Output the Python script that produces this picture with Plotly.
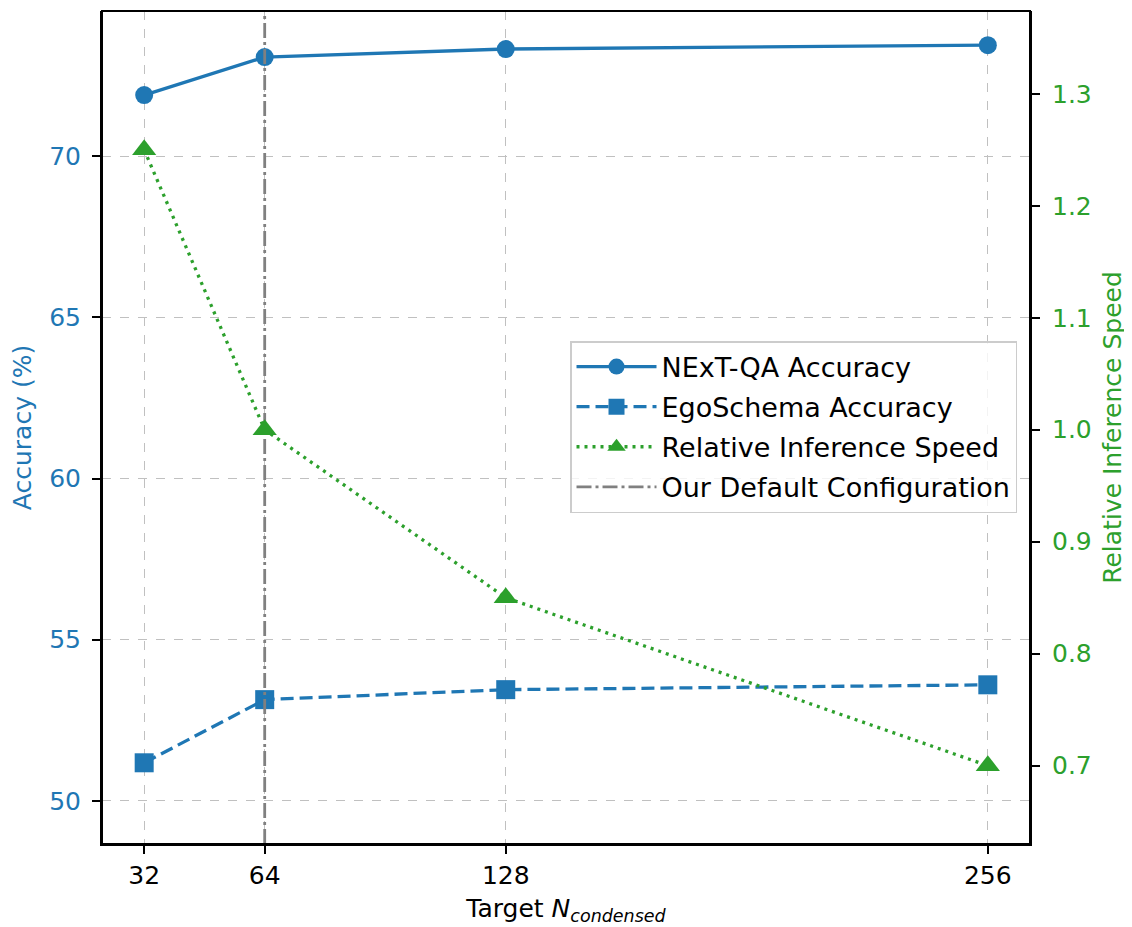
import plotly.graph_objects as go

n_condensed = [32, 64, 128, 256]
nextqa_acc = [71.9, 73.08, 73.33, 73.45]
egoschema_acc = [51.18, 53.14, 53.45, 53.6]
rel_speed = [1.25, 1.0, 0.85, 0.7]
default_config = 64
x_ticks = [32, 64, 128, 256]

BLUE = "#1f77b4"
GREEN = "#2ca02c"
FONT = "DejaVu Sans"

y_range = [48.66, 74.51]
y2_range = [0.630, 1.374]

fig = go.Figure()
fig.add_trace(go.Scatter(x=n_condensed, y=nextqa_acc, mode="lines+markers",
                         name="NExT-QA Accuracy", legendgroup="a",
                         line=dict(color=BLUE, width=3.3),
                         marker=dict(symbol="circle", size=18, color=BLUE)))
fig.add_trace(go.Scatter(x=n_condensed, y=egoschema_acc, mode="lines+markers",
                         name="EgoSchema Accuracy", legendgroup="b",
                         line=dict(color=BLUE, width=3.3, dash="13px,6px"),
                         marker=dict(symbol="square", size=19, color=BLUE)))
fig.add_trace(go.Scatter(x=n_condensed, y=rel_speed, mode="lines+markers",
                         name="Relative Inference Speed", legendgroup="c",
                         line=dict(color=GREEN, width=3.3, dash="3px,5px"),
                         marker=dict(symbol="triangle-up", size=21, color=GREEN),
                         yaxis="y2"))
fig.add_trace(go.Scatter(x=[default_config, default_config], y=y_range, mode="lines",
                         name="Our Default Configuration", legendgroup="d",
                         line=dict(color="gray", width=2.8, dash="15px,4px,3px,4px")))

axis_common = dict(showline=True, linecolor="black", linewidth=2, mirror=False,
                   ticks="outside", ticklen=8, tickwidth=1.8, tickcolor="black",
                   zeroline=False)

fig.update_layout(
    width=1124, height=919,
    margin=dict(l=94, r=102, t=3, b=83),
    plot_bgcolor="white", paper_bgcolor="white",
    font=dict(family=FONT, size=25, color="black"),
    showlegend=True,
    legend=dict(x=0.986, xanchor="right", y=0.5006, yanchor="middle",
                bgcolor="rgba(255,255,255,0.8)", bordercolor="#cccccc", borderwidth=1.5,
                font=dict(size=27, family=FONT), traceorder="grouped",
                tracegroupgap=2, itemwidth=80),
    xaxis=dict(range=[20.8, 267.2], tickvals=x_ticks, ticktext=[str(v) for v in x_ticks],
               showgrid=True, gridcolor="#c0c0c0", griddash="dash", gridwidth=1,
               title=dict(text="Target <i>N</i><sub><i>condensed</i></sub>",
                          font=dict(size=25), standoff=10),
               tickfont=dict(size=25), **axis_common),
    yaxis=dict(range=y_range, dtick=5, tick0=50, showgrid=True, gridcolor="#c0c0c0",
               griddash="dash", gridwidth=1, ticklabelstandoff=6,
               title=dict(text="Accuracy (%)", font=dict(color=BLUE, size=25), standoff=11),
               tickfont=dict(color=BLUE, size=25), **axis_common),
    yaxis2=dict(range=y2_range, dtick=0.1, tick0=0.7, overlaying="y", side="right",
                showgrid=False, tickformat=".1f", ticklabelstandoff=7,
                title=dict(text="Relative Inference Speed", font=dict(color=GREEN, size=25), standoff=13),
                tickfont=dict(color=GREEN, size=25), **axis_common),
)
fig.add_shape(type="rect", xref="paper", yref="paper", x0=0, y0=0, x1=1, y1=1,
              line=dict(color="black", width=2), layer="above")

fig.write_html("out.html")
